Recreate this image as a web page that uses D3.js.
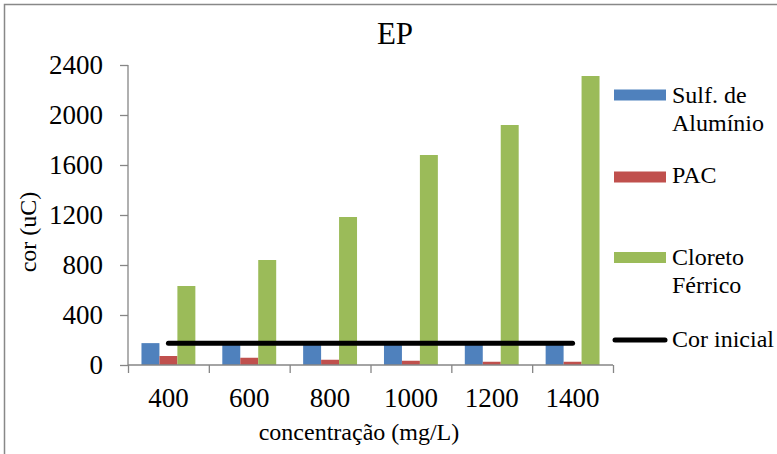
<!DOCTYPE html>
<html>
<head>
<meta charset="utf-8">
<script src="https://cdn.jsdelivr.net/npm/d3@7"></script>
<style>
  html, body { margin: 0; padding: 0; background: #fff; }
  svg { display: block; }
</style>
</head>
<body>
<script>
// Concentrations tested (mg/L)
const categories = ["400", "600", "800", "1000", "1200", "1400"];

// Colour (uC) measured after treatment with each coagulant
const sulfAluminio = [175, 165, 162, 162, 160, 160];
const pac = [72, 58, 42, 34, 26, 26];
const cloretoFerrico = [632, 840, 1184, 1680, 1920, 2312];

// Initial colour of the raw water
const corInicial = [175, 175, 175, 175, 175, 175];

const yTicks = [0, 400, 800, 1200, 1600, 2000, 2400];

const seriesNames = ["Sulf. de Alumínio", "PAC", "Cloreto Férrico"];
const seriesColors = ["#4F81BD", "#C0504D", "#9BBB59"];
const seriesValues = [sulfAluminio, pac, cloretoFerrico];

const FONT = "'Liberation Serif', 'Times New Roman', serif";

const W = 777, H = 454;
const plot = { left: 128, right: 613, top: 65, bottom: 365 };

const svg = d3.select("body").append("svg")
  .attr("width", W).attr("height", H)
  .style("font-family", FONT);

// Outer frame (only the top and left edges fall inside the view)
svg.append("rect")
  .attr("x", 4.5).attr("y", 4.5)
  .attr("width", 900).attr("height", 600)
  .attr("fill", "none").attr("stroke", "#888").attr("stroke-width", 1.5);

// Scales
const x = d3.scaleBand().domain(categories)
  .range([plot.left, plot.right]).paddingInner(0).paddingOuter(0);
const barW = x.bandwidth() / 4.5;
const xs = d3.scaleBand().domain(d3.range(3))
  .range([0.75 * barW, 3.75 * barW]).padding(0);
const y = d3.scaleLinear().domain([0, 2400]).range([plot.bottom, plot.top]);

// Bars
seriesValues.forEach((vals, si) => {
  svg.append("g").selectAll("rect").data(vals).join("rect")
    .attr("x", (d, i) => x(categories[i]) + xs(si))
    .attr("y", d => y(d))
    .attr("width", xs.bandwidth())
    .attr("height", d => y(0) - y(d))
    .attr("fill", seriesColors[si]);
});

// Axes
const axisColor = "#868686";
const yAxis = svg.append("g")
  .attr("transform", `translate(${plot.left},0)`)
  .call(d3.axisLeft(y).tickValues(yTicks).tickFormat(d3.format("d"))
    .tickSize(8).tickPadding(17));
yAxis.attr("font-family", null);
yAxis.select(".domain").attr("stroke", axisColor).attr("stroke-width", 1.3)
  .attr("d", `M0,${plot.top}V${plot.bottom}`);
yAxis.selectAll(".tick line").attr("stroke", axisColor).attr("stroke-width", 1.3);
yAxis.selectAll(".tick text").attr("font-size", 27).style("font-family", FONT);

// Category boundary ticks along the x axis
const xb = d3.scaleLinear().domain([0, categories.length]).range([plot.left, plot.right]);
const xTickAxis = svg.append("g")
  .attr("transform", `translate(0,${plot.bottom})`)
  .call(d3.axisBottom(xb).tickValues(d3.range(categories.length + 1))
    .tickFormat("").tickSize(8));
xTickAxis.select(".domain").attr("stroke", axisColor).attr("stroke-width", 1.3)
  .attr("d", `M${plot.left},0H${plot.right}`);
xTickAxis.selectAll(".tick line").attr("stroke", axisColor).attr("stroke-width", 1.3);

// Category labels
const xLabelAxis = svg.append("g")
  .attr("transform", `translate(0,${plot.bottom})`)
  .call(d3.axisBottom(x).tickSize(0).tickPadding(23));
xLabelAxis.attr("font-family", null);
xLabelAxis.select(".domain").remove();
xLabelAxis.selectAll(".tick text").attr("font-size", 27).style("font-family", FONT);

// Initial colour line
const line = d3.line()
  .x((d, i) => x(categories[i]) + x.bandwidth() / 2)
  .y(d => y(d));
svg.append("path").datum(corInicial)
  .attr("d", line)
  .attr("fill", "none").attr("stroke", "#000")
  .attr("stroke-width", 5).attr("stroke-linecap", "round");

// Title and axis titles
svg.append("text").attr("x", 395).attr("y", 44)
  .attr("text-anchor", "middle").attr("font-size", 31)
  .style("font-family", FONT).text("EP");
svg.append("text").attr("x", 359).attr("y", 440)
  .attr("text-anchor", "middle").attr("font-size", 24)
  .style("font-family", FONT).text("concentração (mg/L)");
svg.append("text")
  .attr("transform", "translate(36,232) rotate(-90)")
  .attr("text-anchor", "middle").attr("font-size", 24)
  .style("font-family", FONT).text("cor (uC)");

// Legend
const legend = svg.append("g");
const legendItems = [
  { lines: ["Sulf. de", "Alumínio"], color: seriesColors[0], swY: 95, textY: 103, type: "rect" },
  { lines: ["PAC"], color: seriesColors[1], swY: 177, textY: 183, type: "rect" },
  { lines: ["Cloreto", "Férrico"], color: seriesColors[2], swY: 257.5, textY: 265, type: "rect" },
  { lines: ["Cor inicial"], color: "#000", swY: 340, textY: 347, type: "line" }
];
legendItems.forEach(item => {
  if (item.type === "rect") {
    legend.append("rect").attr("x", 614).attr("y", item.swY - 5.5)
      .attr("width", 52).attr("height", 11).attr("fill", item.color);
  } else {
    legend.append("line").attr("x1", 615).attr("x2", 665)
      .attr("y1", item.swY).attr("y2", item.swY)
      .attr("stroke", item.color).attr("stroke-width", 5)
      .attr("stroke-linecap", "round");
  }
  const t = legend.append("text").attr("x", 672).attr("y", item.textY)
    .attr("font-size", 24).style("font-family", FONT);
  item.lines.forEach((s, k) => {
    t.append("tspan").attr("x", 672).attr("dy", k === 0 ? 0 : 28).text(s);
  });
});
</script>
</body>
</html>
